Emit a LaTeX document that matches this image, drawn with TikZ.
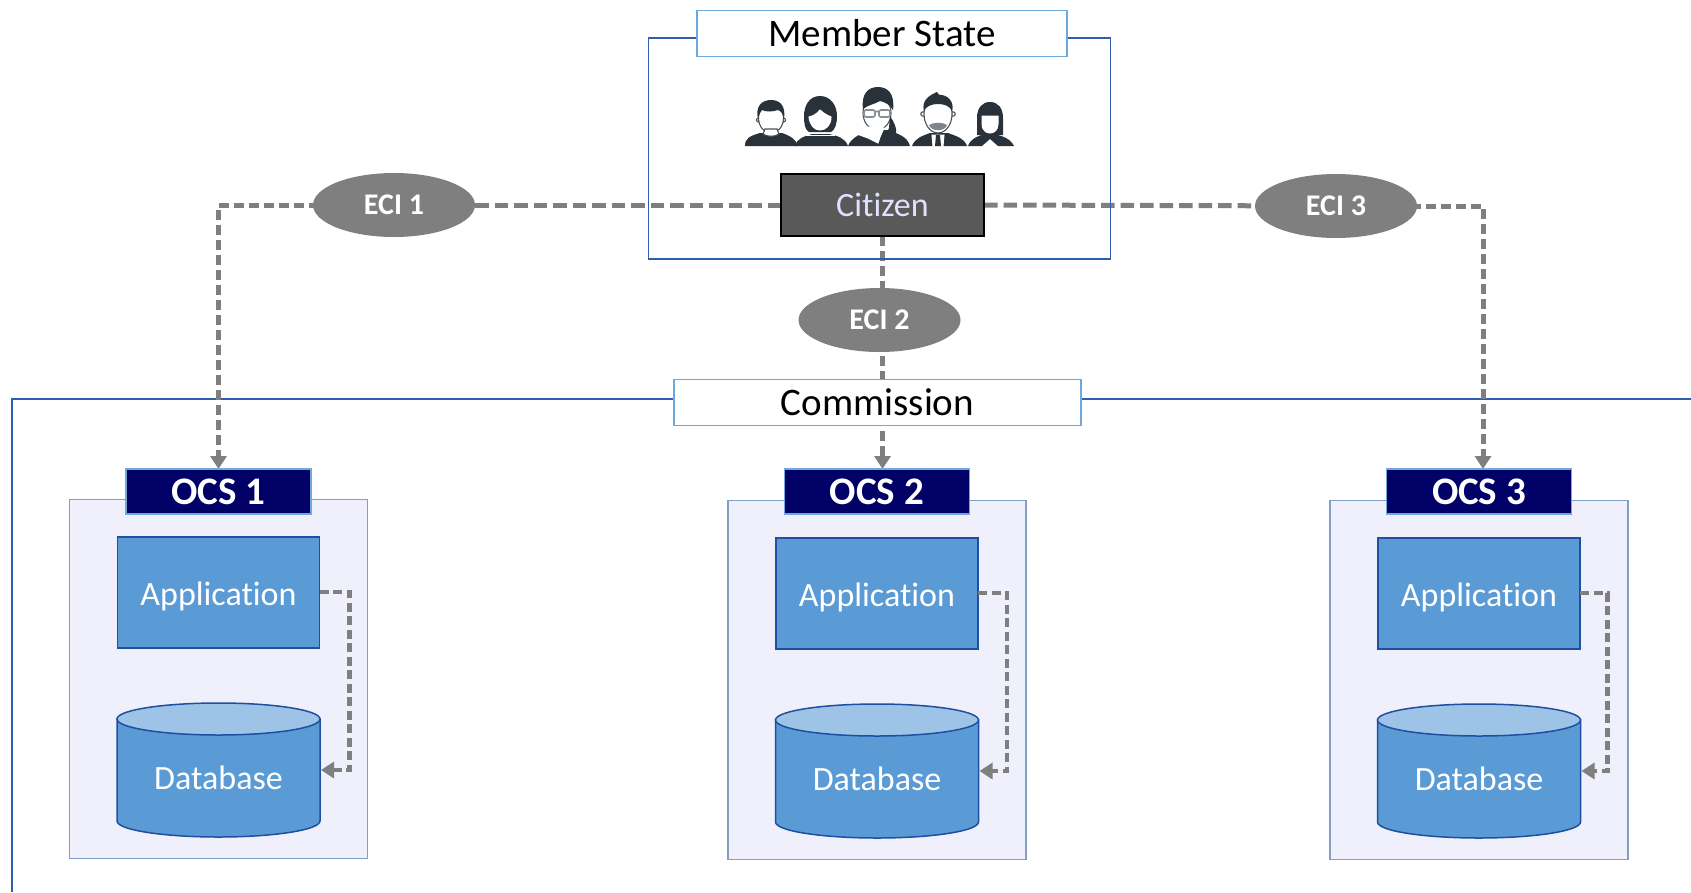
\documentclass[tikz,border=0pt]{standalone}
\usepackage{fontspec}
\setmainfont[Ligatures=NoCommon]{Carlito}
\usetikzlibrary{arrows.meta,backgrounds,calc,shapes.geometric}
\definecolor{frameblue}{HTML}{2F5DB0}
\definecolor{titleblue}{HTML}{6FA8DC}
\definecolor{appblue}{HTML}{5B9BD5}
\definecolor{applight}{HTML}{9DC3E6}
\definecolor{edgeblue}{HTML}{1F4FA0}
\definecolor{contfill}{HTML}{F0F0FC}
\definecolor{contedge}{HTML}{7F9FC4}
\definecolor{navy}{HTML}{000066}
\definecolor{connc}{HTML}{7F7F7F}
\definecolor{peoplec}{HTML}{29323B}
\tikzset{
  x=1pt,y=-1pt,
  every node/.style={inner sep=0pt,outer sep=0pt},
  frame/.style={draw=frameblue,line width=1.5pt},
  titlebox/.style={draw=titleblue,line width=1.5pt,fill=white,font=\fontsize{39}{44}\selectfont,text=black},
  citizenbox/.style={draw=black,line width=1.5pt,fill=black!65,text=white!88!blue,font=\fontsize{34}{38}\selectfont},
  eci/.style={ellipse,draw=none,fill=connc,text=white,font=\bfseries\fontsize{30}{34}\selectfont,minimum width=162pt,minimum height=64pt},
  ocslabel/.style={draw=titleblue,line width=1.5pt,fill=navy,text=white,font=\bfseries\fontsize{39}{44}\selectfont,minimum width=185pt,minimum height=45pt},
  container/.style={draw=contedge,line width=1.5pt,fill=contfill,minimum width=298pt,minimum height=359pt},
  appbox/.style={draw=edgeblue,line width=1.5pt,fill=appblue,minimum width=202pt,minimum height=111pt},
  inlabel/.style={text=white,font=\fontsize{34}{38}\selectfont},
  dbbox/.style={minimum width=203pt,minimum height=134pt},
  dbside/.style={draw=edgeblue,line width=1.5pt,fill=appblue},
  dbtop/.style={draw=edgeblue,line width=1.5pt,fill=applight},
  conn/.style={draw=connc,line width=5pt,dash pattern=on 13.5pt off 6pt},
  connv/.style={draw=connc,line width=5pt,dash pattern=on 10pt off 5pt},
  connl/.style={draw=connc,line width=4.6pt,dash pattern=on 9pt off 4.5pt},
  tip/.style={-{Triangle[length=13pt,width=16pt]}},
  ppl/.style={fill=peoplec,draw=none},
  face/.style={fill=white,draw=peoplec!85,line width=1.1pt},
  clear/.style={fill=white,draw=white,line width=1pt},
}
\newcommand{\dbshape}[1]{%
  \path[dbside] ($(#1.north west)+(0,16)$) -- ++(0,102)
    arc[start angle=180,end angle=0,x radius=101.5,y radius=16] -- ++(0,-102) -- cycle;
  \path[dbtop] ($(#1.north)+(0,16)$) ellipse[x radius=101.5,y radius=16];
}
\begin{document}
\begin{tikzpicture}
\useasboundingbox (0,0) rectangle (1691,892);

% frames
\node[frame,minimum width=462pt,minimum height=221pt] (msframe) at (879.5,148.5) {};
\node[titlebox,minimum width=370pt,minimum height=46pt] (mstitle) at (882,33.5) {Member State};
\node[citizenbox,minimum width=203pt,minimum height=62pt] (citizen) at (882.5,205) {Citizen};

% person 1
\fill[ppl] (745,146) .. controls (745,138) and (750,136) .. (760,133) -- (782,133) .. controls (790,136) and (795,138) .. (798,146) -- cycle;
\path[face] (758.5,120) circle(2) (783.5,120) circle(2);
\path[face] (771,118) ellipse[x radius=12.5,y radius=15];
\path[face] (765,129) -- (777,129) -- (779,134) .. controls (775,137) and (767,137) .. (763,134) -- cycle;
\fill[ppl] (758,119) .. controls (755,106) and (762,100) .. (771,100) .. controls (780,100) and (786,106) .. (784,119) .. controls (783,114) and (781,111) .. (778,110) .. controls (772,112) and (766,112) .. (762,110) .. controls (760,112) and (759,115) .. (758,119) -- cycle;
% person 2
\fill[ppl] (795,146) .. controls (797,138) and (805,136) .. (812,134) -- (829,134) .. controls (838,136) and (845,138) .. (848,146) -- cycle;
\fill[ppl] (820,96) .. controls (831,96) and (837,106) .. (837,116) .. controls (837,124) and (835,130) .. (831,132) -- (809,132) .. controls (805,130) and (804,124) .. (804,116) .. controls (804,106) and (809,96) .. (820,96) -- cycle;
\path[clear] (820,110) .. controls (824,114) and (829,116) .. (831,117) .. controls (831,125) and (826,130) .. (820,130) .. controls (814,130) and (810,125) .. (809,117) .. controls (813,116) and (817,114) .. (820,110) -- cycle;
\draw[white,line width=1pt] (806,135) -- (835,135);
% person 3
\fill[ppl] (848,146) .. controls (851,138) and (860,134) .. (868,131) -- (888,130) .. controls (898,134) and (907,136) .. (910,146) -- cycle;
\path[face] (877,113) ellipse[x radius=14,y radius=17];
\path[clear] (866,127) -- (884,128) -- (880,137) -- (878,143) -- (868,138) -- (857,134) .. controls (861,133) and (864,131) .. (866,127) -- cycle;
\fill[ppl] (863,109) .. controls (861,94) and (868,87) .. (878,87) .. controls (888,87) and (895,94) .. (893,110) .. controls (890,105) and (885,102) .. (880,101) .. controls (875,104) and (868,105) .. (863,109) -- cycle;
\fill[ppl] (890,116) .. controls (894,122) and (897,128) .. (896,133) -- (884,140) -- (889,128) -- cycle;
\draw[peoplec!55,line width=1.6pt,rounded corners=2pt] (864,110) rectangle (875,117) (879,110) rectangle (890,117) (875,111.5) -- (879,111.5);
% person 4
\fill[ppl] (912,146) .. controls (915,138) and (922,136) .. (930,133) -- (948,133) .. controls (956,136) and (964,138) .. (967,146) -- cycle;
\path[face] (923,114) circle(2.2) (953,114) circle(2.2);
\path[face] (938,114) ellipse[x radius=14,y radius=19];
\fill[peoplec!60] (929,125) .. controls (934,122) and (942,122) .. (947,125) .. controls (945,132) and (931,132) .. (929,125) -- cycle;
\fill[ppl] (924,111) .. controls (921,100) and (930,95) .. (937,92) -- (939,95) .. controls (947,94) and (955,102) .. (952,111) .. controls (950,106) and (944,104) .. (938,104) .. controls (932,104) and (926,106) .. (924,111) -- cycle;
\path[clear] (932,135) -- (944,135) -- (943,146) -- (933,146) -- cycle;
\fill[ppl] (936,135) -- (940,135) -- (941,146) -- (935,146) -- cycle;
% person 5
\fill[ppl] (968,146) .. controls (971,138) and (978,136) .. (985,134) -- (994,134) .. controls (1002,136) and (1010,138) .. (1014,146) -- (998,146) -- (990,139) -- (982,146) -- cycle;
\fill[ppl] (977,135) -- (977,118) .. controls (977,108) and (982,102) .. (990,102) .. controls (998,102) and (1003,108) .. (1003,118) -- (1003,135) -- cycle;
\path[clear] (982,116) -- (998,116) -- (998,124) .. controls (998,130) and (994,133) .. (990,133) .. controls (986,133) and (982,130) .. (982,124) -- cycle;

% Commission title
\node[titlebox,minimum width=407pt,minimum height=46pt] (comtitle) at (877.5,402.5) {Commission};

% ECI ellipses
\node[eci] (eci1) at (394,205) {ECI 1};
\node[eci] (eci2) at (879.5,320) {ECI 2};
\node[eci] (eci3) at (1336,206) {ECI 3};

% OCS columns
\foreach \n/\cx/\yy/\off in {1/218.5/0/30,2/877/2/29,3/1479/2/27.5}{
  \node[container] (cont\n) at (\cx,{679+\yy/2}) {};
  \node[ocslabel] (ocs\n) at (\cx,491.5) {OCS \n};
  \node[appbox] (app\n) at (\cx,{592.5+\yy/2}) {};
  \node[inlabel] (appt\n) at ($(app\n.center)+(0,3.5)$) {Application};
  \node[dbbox] (db\n) at (\cx,{770+\yy/2}) {};
  \dbshape{db\n}
  \node[inlabel] (dbt\n) at ($(db\n.center)+(0,8)$) {Database};
  \draw[connl,tip] (app\n.east |- 0,{592+\yy/2}) -- ++(\off,0) |- ($(db\n.east)+(1,0)$);
}

% connectors
\coordinate (free1) at (1691,399);
\coordinate (free2) at (12,892);
\coordinate (into3) at ($(ocs3.north)+(4,0)$);
\begin{scope}[on background layer]
  \draw[frame] (comtitle.east |- free1) -- (free1);
  \draw[frame] (comtitle.west |- free1) -- (free2 |- free1) -- (free2);
  \draw[conn] (citizen.west) -- (eci1.center);
  \draw[connv,tip] (eci1.center) -| (ocs1.north);
  \draw[conn] (citizen.east) -- (eci3.center);
  \draw[connv,tip] (eci3.center) -| (into3);
  \draw[connv,tip] (citizen.south) -- (citizen.south |- ocs2.north);
\end{scope}
\end{tikzpicture}
\end{document}
